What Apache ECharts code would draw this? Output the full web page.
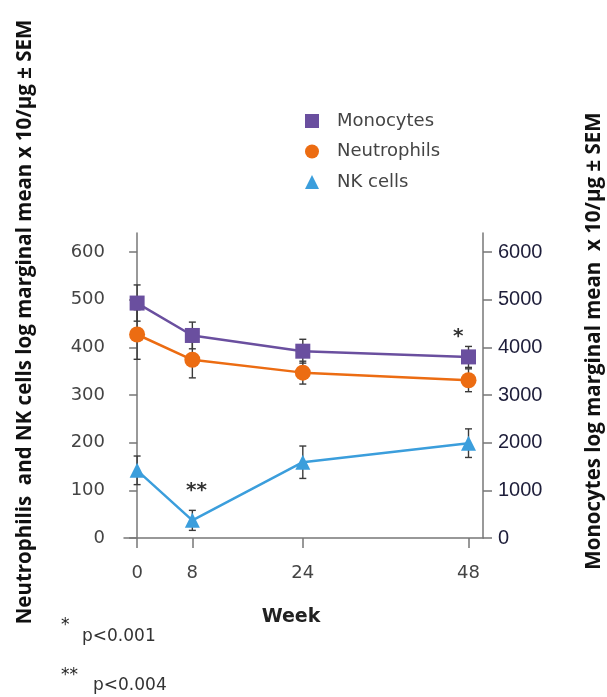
<!DOCTYPE html>
<html>
<head>
<meta charset="utf-8">
<script src="https://cdn.jsdelivr.net/npm/echarts@6/dist/echarts.min.js"></script>
<style>
  html, body { margin: 0; padding: 0; background: #fff; }
  #chart { width: 607px; height: 697px; }
</style>
</head>
<body>
<div id="chart"></div>
<script>
// 数据
const weeks = [0, 8, 24, 48]
const monoMean = [4930, 4250, 3920, 3800]
const monoSem = [380, 280, 250, 220]
const neutMean = [427, 374, 347, 331]
const neutSem = [52, 38, 24, 24]
const nkMean = [142, 37, 159, 199]
const nkSem = [30, 21, 34, 30]
const leftTicks = [0, 100, 200, 300, 400, 500, 600]
const rightTicks = [0, 1000, 2000, 3000, 4000, 5000, 6000]

const colors = { mono: '#6a4f9f', neut: '#ec6c12', nk: '#3b9edc' }
const axisColor = '#777'
const font = 'DejaVu Sans'

const chart = echarts.init(document.getElementById('chart'))

function pairs(mean) {
  return weeks.map((w, i) => [w, mean[i]])
}

// 误差线
function errorBars(name, mean, sem, yAxisIndex) {
  return {
    type: 'custom',
    name: name + ' SEM',
    yAxisIndex,
    silent: true,
    z: 1,
    data: weeks.map((w, i) => [w, mean[i] - sem[i], mean[i] + sem[i]]),
    encode: { x: 0, y: [1, 2] },
    renderItem(params, api) {
      const top = api.coord([api.value(0), api.value(2)])
      const bot = api.coord([api.value(0), api.value(1)])
      const cap = 3.5
      const style = { stroke: '#3a3a3a', lineWidth: 1.4 }
      return {
        type: 'group',
        children: [
          { type: 'line', shape: { x1: top[0], y1: top[1], x2: bot[0], y2: bot[1] }, style },
          { type: 'line', shape: { x1: top[0] - cap, y1: top[1], x2: top[0] + cap, y2: top[1] }, style },
          { type: 'line', shape: { x1: bot[0] - cap, y1: bot[1], x2: bot[0] + cap, y2: bot[1] }, style }
        ]
      }
    }
  }
}

// 显著性标记
function starMark(coord, text) {
  return {
    symbol: 'circle',
    symbolSize: 1,
    silent: true,
    itemStyle: { color: 'rgba(0,0,0,0)' },
    label: {
      show: true, position: 'inside', formatter: text,
      fontSize: 20, fontWeight: 'bold', color: '#333', fontFamily: font
    },
    data: [{ coord }]
  }
}

const option = {
  backgroundColor: '#fff',
  animation: false,
  grid: { left: 124, right: 124, top: 233, bottom: 159, containLabel: false },
  legend: {
    orient: 'vertical',
    left: 300,
    top: 106,
    itemWidth: 14,
    itemHeight: 14,
    itemGap: 10.5,
    selectedMode: false,
    textStyle: { fontSize: 18, color: '#444', fontFamily: font, lineHeight: 20, padding: [0, 0, 0, 13] },
    data: [
      { name: 'Monocytes', icon: 'rect' },
      { name: 'Neutrophils', icon: 'circle' },
      { name: 'NK cells', icon: 'triangle' }
    ]
  },
  xAxis: {
    type: 'value',
    min: -1.9,
    max: 50.1,
    splitLine: { show: false },
    axisLine: { onZero: false, lineStyle: { color: axisColor, width: 1.5 } },
    axisTick: { show: true, length: 10, customValues: weeks, lineStyle: { color: axisColor, width: 1.5 } },
    axisLabel: { customValues: weeks, margin: 26, fontSize: 18, color: '#444', fontFamily: font }
  },
  yAxis: [
    {
      type: 'value',
      min: 0,
      max: 640,
      position: 'left',
      splitLine: { show: false },
      axisLine: { show: true, lineStyle: { color: axisColor, width: 1.5 } },
      axisTick: { show: true, length: 8, customValues: leftTicks, lineStyle: { color: axisColor, width: 1.5 } },
      axisLabel: { customValues: leftTicks, margin: 19, fontSize: 18, color: '#444', fontFamily: font }
    },
    {
      type: 'value',
      min: 0,
      max: 6400,
      position: 'right',
      splitLine: { show: false },
      axisLine: { show: true, lineStyle: { color: axisColor, width: 1.5 } },
      axisTick: { show: true, length: 9, customValues: rightTicks, lineStyle: { color: axisColor, width: 1.5 } },
      axisLabel: {
        customValues: rightTicks, margin: 15, fontSize: 20, color: '#1e1e3a', fontFamily: 'Liberation Sans',
        formatter: v => String(v)
      }
    }
  ],
  series: [
    errorBars('Monocytes', monoMean, monoSem, 1),
    errorBars('Neutrophils', neutMean, neutSem, 0),
    errorBars('NK cells', nkMean, nkSem, 0),
    {
      name: 'Monocytes',
      type: 'line',
      yAxisIndex: 1,
      z: 3,
      data: pairs(monoMean),
      symbol: 'rect',
      symbolSize: 15,
      showAllSymbol: true,
      itemStyle: { color: colors.mono },
      lineStyle: { color: colors.mono, width: 2.5 },
      markPoint: starMark([46.5, 4230], '*')
    },
    {
      name: 'Neutrophils',
      type: 'line',
      yAxisIndex: 0,
      z: 3,
      data: pairs(neutMean),
      symbol: 'circle',
      symbolSize: 16,
      itemStyle: { color: colors.neut },
      lineStyle: { color: colors.neut, width: 2.5 },
      markPoint: starMark([8.6, 100], '**')
    },
    {
      name: 'NK cells',
      type: 'line',
      yAxisIndex: 0,
      z: 3,
      data: pairs(nkMean),
      symbol: 'triangle',
      symbolSize: 15,
      itemStyle: { color: colors.nk },
      lineStyle: { color: colors.nk, width: 2.5 }
    }
  ],
  graphic: [
    {
      type: 'text', x: 25, y: 322, rotation: Math.PI / 2,
      style: {
        text: 'Neutrophilis  and NK cells log marginal mean x 10/μg ± SEM',
        font: 'bold 20.5px "Open Sans"', fill: '#111', align: 'center', verticalAlign: 'middle'
      }
    },
    {
      type: 'text', x: 594, y: 341, rotation: Math.PI / 2,
      style: {
        text: 'Monocytes log marginal mean  x 10/μg ± SEM',
        font: 'bold 20.5px "Open Sans"', fill: '#111', align: 'center', verticalAlign: 'middle'
      }
    },
    {
      type: 'text', x: 291, y: 617,
      style: { text: 'Week', font: 'bold 19px "DejaVu Sans"', fill: '#222', align: 'center', verticalAlign: 'middle' }
    },
    {
      type: 'text', x: 61, y: 626,
      style: { text: '*', font: '17px "DejaVu Sans"', fill: '#222', align: 'left', verticalAlign: 'middle' }
    },
    {
      type: 'text', x: 82, y: 637,
      style: { text: 'p<0.001', font: '17px "DejaVu Sans"', fill: '#333', align: 'left', verticalAlign: 'middle' }
    },
    {
      type: 'text', x: 61, y: 676,
      style: { text: '**', font: '17px "DejaVu Sans"', fill: '#222', align: 'left', verticalAlign: 'middle' }
    },
    {
      type: 'text', x: 93, y: 686,
      style: { text: 'p<0.004', font: '17px "DejaVu Sans"', fill: '#333', align: 'left', verticalAlign: 'middle' }
    }
  ]
}

chart.setOption(option)

window.addEventListener('resize', () => {
  chart.resize()
})
</script>
</body>
</html>
